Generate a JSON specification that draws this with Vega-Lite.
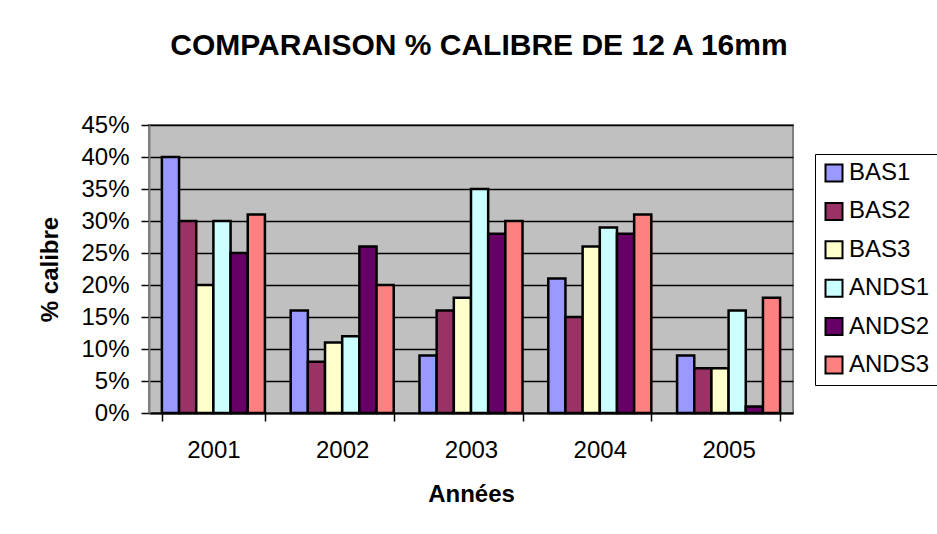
{
  "$schema": "https://vega.github.io/schema/vega-lite/v6.json",
  "width": 644,
  "height": 288,
  "autosize": {"type": "none"},
  "padding": {"left": 149, "top": 125, "right": 144, "bottom": 121},
  "background": "white",
  "title": {
    "text": "COMPARAISON % CALIBRE DE 12 A 16mm",
    "font": "Liberation Sans",
    "fontSize": 30,
    "fontWeight": "bold",
    "color": "black",
    "anchor": "middle",
    "dx": 8,
    "offset": 52
  },
  "config": {
    "font": "Liberation Sans",
    "view": {"fill": "#C0C0C0", "stroke": "#808080", "strokeWidth": 2}
  },
  "data": {
    "values": [
      {"annee": "2001", "serie": "BAS1", "v": 0.40},
      {"annee": "2001", "serie": "BAS2", "v": 0.30},
      {"annee": "2001", "serie": "BAS3", "v": 0.20},
      {"annee": "2001", "serie": "ANDS1", "v": 0.30},
      {"annee": "2001", "serie": "ANDS2", "v": 0.25},
      {"annee": "2001", "serie": "ANDS3", "v": 0.31},
      {"annee": "2002", "serie": "BAS1", "v": 0.16},
      {"annee": "2002", "serie": "BAS2", "v": 0.08},
      {"annee": "2002", "serie": "BAS3", "v": 0.11},
      {"annee": "2002", "serie": "ANDS1", "v": 0.12},
      {"annee": "2002", "serie": "ANDS2", "v": 0.26},
      {"annee": "2002", "serie": "ANDS3", "v": 0.20},
      {"annee": "2003", "serie": "BAS1", "v": 0.09},
      {"annee": "2003", "serie": "BAS2", "v": 0.16},
      {"annee": "2003", "serie": "BAS3", "v": 0.18},
      {"annee": "2003", "serie": "ANDS1", "v": 0.35},
      {"annee": "2003", "serie": "ANDS2", "v": 0.28},
      {"annee": "2003", "serie": "ANDS3", "v": 0.30},
      {"annee": "2004", "serie": "BAS1", "v": 0.21},
      {"annee": "2004", "serie": "BAS2", "v": 0.15},
      {"annee": "2004", "serie": "BAS3", "v": 0.26},
      {"annee": "2004", "serie": "ANDS1", "v": 0.29},
      {"annee": "2004", "serie": "ANDS2", "v": 0.28},
      {"annee": "2004", "serie": "ANDS3", "v": 0.31},
      {"annee": "2005", "serie": "BAS1", "v": 0.09},
      {"annee": "2005", "serie": "BAS2", "v": 0.07},
      {"annee": "2005", "serie": "BAS3", "v": 0.07},
      {"annee": "2005", "serie": "ANDS1", "v": 0.16},
      {"annee": "2005", "serie": "ANDS2", "v": 0.01},
      {"annee": "2005", "serie": "ANDS3", "v": 0.18}
    ]
  },
  "mark": {"type": "bar", "stroke": "black", "strokeWidth": 2.5},
  "encoding": {
    "x": {
      "field": "annee",
      "type": "nominal",
      "scale": {"paddingInner": 0.2, "paddingOuter": 0.1},
      "axis": {
        "title": "Années",
        "titleFont": "Liberation Sans",
        "titleFontSize": 24,
        "titleFontWeight": "bold",
        "titleColor": "black",
        "titlePadding": 20,
        "labelAngle": 0,
        "labelFontSize": 24,
        "labelColor": "black",
        "labelPadding": 17,
        "tickBand": "extent",
        "tickSize": 8,
        "tickColor": "black",
        "tickWidth": 1.5,
        "domainColor": "black",
        "domainWidth": 2
      }
    },
    "xOffset": {
      "field": "serie",
      "type": "nominal",
      "sort": ["BAS1", "BAS2", "BAS3", "ANDS1", "ANDS2", "ANDS3"],
      "scale": {"paddingInner": 0, "paddingOuter": 0}
    },
    "y": {
      "field": "v",
      "type": "quantitative",
      "scale": {"domain": [0, 0.45], "nice": false},
      "axis": {
        "title": "% calibre",
        "titleFontSize": 24,
        "titleFontWeight": "bold",
        "titleColor": "black",
        "titlePadding": 18,
        "format": ".0%",
        "values": [0, 0.05, 0.1, 0.15, 0.2, 0.25, 0.3, 0.35, 0.4, 0.45],
        "labelFontSize": 24,
        "labelColor": "black",
        "labelPadding": 12,
        "tickSize": 8,
        "tickColor": "black",
        "tickWidth": 1.5,
        "grid": true,
        "gridColor": "black",
        "gridWidth": 1.5,
        "domainColor": "#808080",
        "domainWidth": 2
      }
    },
    "fill": {
      "field": "serie",
      "type": "nominal",
      "sort": ["BAS1", "BAS2", "BAS3", "ANDS1", "ANDS2", "ANDS3"],
      "scale": {
        "domain": ["BAS1", "BAS2", "BAS3", "ANDS1", "ANDS2", "ANDS3"],
        "range": ["#9999FF", "#993366", "#FFFFCC", "#CCFFFF", "#660066", "#FF8080"]
      },
      "legend": {
        "title": null,
        "orient": "none",
        "legendX": 666,
        "legendY": 29,
        "padding": 7,
        "strokeColor": "black",
        "fillColor": "white",
        "symbolType": "square",
        "symbolSize": 289,
        "symbolStrokeColor": "black",
        "symbolStrokeWidth": 2,
        "symbolOpacity": 1,
        "labelFontSize": 24,
        "labelColor": "black",
        "labelOffset": 3,
        "rowPadding": 12.4,
        "labelLimit": 200
      }
    }
  }
}
